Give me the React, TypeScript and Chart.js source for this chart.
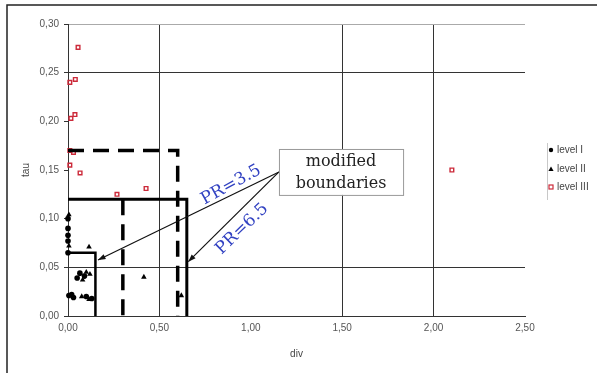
import React, { useEffect, useRef } from 'react';
import { Chart, registerables } from 'chart.js';

Chart.register(...registerables);

// ---- axes ----
const xMin = 0;
const xMax = 2.5;
const xStep = 0.5;
const yMin = 0;
const yMax = 0.3;
const yStep = 0.05;
const visibleGridX = [0.5, 1.5, 2.0];
const visibleGridY = [0.05, 0.25];
const topGridY = [0.3];

// ---- series (div, tau) ----
const levelI_div = [0.0, 0.0, 0.0, 0.0, 0.0, 0.005, 0.02, 0.03, 0.05, 0.065, 0.09, 0.1, 0.13];
const levelI_tau = [0.1, 0.09, 0.083, 0.077, 0.065, 0.021, 0.022, 0.019, 0.039, 0.044, 0.041, 0.02, 0.018];

const levelII_div = [0.005, 0.005, 0.115, 0.08, 0.1, 0.12, 0.075, 0.115, 0.415, 0.62];
const levelII_tau = [0.104, 0.072, 0.071, 0.037, 0.045, 0.043, 0.02, 0.017, 0.04, 0.021];

const levelIII_div = [0.055, 0.01, 0.04, 0.016, 0.038, 0.01, 0.03, 0.01, 0.066, 0.268, 0.427, 2.1];
const levelIII_tau = [0.276, 0.24, 0.243, 0.203, 0.207, 0.17, 0.168, 0.155, 0.147, 0.125, 0.131, 0.15];

// ---- boundary lines ----
const outerSolid_div = [0, 0.65, 0.65];
const outerSolid_tau = [0.12, 0.12, 0];
const innerSolid_div = [0, 0.15, 0.15];
const innerSolid_tau = [0.065, 0.065, 0];
const outerDashed_div = [0, 0.6, 0.6];
const outerDashed_tau = [0.17, 0.17, 0];
const midDashed_div = [0.3, 0.3];
const midDashed_tau = [0.12, 0];

// ---- annotation (data units) ----
const noteBox = { div1: 1.154, tau1: 0.1716, div2: 1.833, tau2: 0.1244 };
const noteLines = ['modified', 'boundaries'];
const arrowFrom = { div: 1.154, tau: 0.148 };
const arrowTips_div = [0.164, 0.658];
const arrowTips_tau = [0.0576, 0.0558];
const prLabels = ['PR=3.5', 'PR=6.5'];
const prLabel_div = [0.892, 0.952];
const prLabel_tau = [0.1346, 0.0894];
const prLabel_angle = [-29, -44];

const legendNames = ['level I', 'level II', 'level III'];

const zip = (xs: number[], ys: number[]) => xs.map((x, i) => ({ x, y: ys[i] }));
const near = (v: number, list: number[]) => list.some((g) => Math.abs(g - v) < 1e-6);
const fmt = (v: number) => Number(v).toFixed(2).replace('.', ',');

const RED = '#cc2a3a';
const BLUE = '#3242c2';

const decorPlugin = {
  id: 'decor',
  beforeDraw(chart: any) {
    const ctx = chart.ctx;
    ctx.save();
    ctx.fillStyle = '#ffffff';
    ctx.fillRect(0, 0, chart.width, chart.height);
    ctx.strokeStyle = '#222';
    ctx.lineWidth = 1.5;
    ctx.beginPath();
    ctx.moveTo(7, chart.height + 5);
    ctx.lineTo(7, 5);
    ctx.lineTo(chart.width + 5, 5);
    ctx.stroke();
    ctx.restore();
  },
  afterDatasetsDraw(chart: any) {
    const ctx = chart.ctx;
    const xs = chart.scales.x;
    const ys = chart.scales.y;
    const px = (v: number) => xs.getPixelForValue(v);
    const py = (v: number) => ys.getPixelForValue(v);
    ctx.save();

    // arrows
    const sx = px(arrowFrom.div);
    const sy = py(arrowFrom.tau);
    ctx.strokeStyle = '#111';
    ctx.fillStyle = '#111';
    ctx.lineWidth = 1.2;
    arrowTips_div.forEach((d, i) => {
      const tx = px(d);
      const ty = py(arrowTips_tau[i]);
      ctx.beginPath();
      ctx.moveTo(sx, sy);
      ctx.lineTo(tx, ty);
      ctx.stroke();
      const a = Math.atan2(ty - sy, tx - sx);
      const L = 8;
      ctx.beginPath();
      ctx.moveTo(tx, ty);
      ctx.lineTo(tx - L * Math.cos(a - 0.35), ty - L * Math.sin(a - 0.35));
      ctx.lineTo(tx - L * Math.cos(a + 0.35), ty - L * Math.sin(a + 0.35));
      ctx.closePath();
      ctx.fill();
    });

    // box
    const bx1 = px(noteBox.div1);
    const by1 = py(noteBox.tau1);
    const bx2 = px(noteBox.div2);
    const by2 = py(noteBox.tau2);
    ctx.fillStyle = '#fff';
    ctx.fillRect(bx1, by1, bx2 - bx1, by2 - by1);
    ctx.strokeStyle = '#999';
    ctx.lineWidth = 1;
    ctx.strokeRect(bx1 + 0.5, by1 + 0.5, bx2 - bx1, by2 - by1);
    ctx.fillStyle = '#222';
    ctx.font = '16px "DejaVu Serif"';
    ctx.textAlign = 'center';
    ctx.textBaseline = 'middle';
    const cx = (bx1 + bx2) / 2;
    const h = by2 - by1;
    noteLines.forEach((t, i) => {
      ctx.fillText(t, cx, by1 + h * (0.27 + i * 0.48));
    });

    // PR labels
    ctx.fillStyle = BLUE;
    ctx.font = '17px "DejaVu Serif"';
    prLabels.forEach((t, i) => {
      ctx.save();
      ctx.translate(px(prLabel_div[i]), py(prLabel_tau[i]));
      ctx.rotate((prLabel_angle[i] * Math.PI) / 180);
      ctx.fillText(t, 0, 0);
      ctx.restore();
    });

    // legend
    const lx = chart.chartArea.right + 22;
    const rows = [150, 169, 187];
    ctx.strokeStyle = '#c8c8c8';
    ctx.lineWidth = 1;
    ctx.beginPath();
    ctx.moveTo(lx + 0.5, 143);
    ctx.lineTo(lx + 0.5, 200);
    ctx.stroke();
    ctx.font = '10px "Liberation Sans"';
    ctx.textAlign = 'left';
    ctx.textBaseline = 'middle';
    legendNames.forEach((name, i) => {
      const y = rows[i];
      const mx = lx + 4;
      if (i === 0) {
        ctx.fillStyle = '#000';
        ctx.beginPath();
        ctx.arc(mx, y, 2.2, 0, Math.PI * 2);
        ctx.fill();
      } else if (i === 1) {
        ctx.fillStyle = '#000';
        ctx.beginPath();
        ctx.moveTo(mx, y - 2.5);
        ctx.lineTo(mx + 2.6, y + 2);
        ctx.lineTo(mx - 2.6, y + 2);
        ctx.closePath();
        ctx.fill();
      } else {
        ctx.strokeStyle = RED;
        ctx.lineWidth = 1.2;
        ctx.strokeRect(mx - 2, y - 2, 4, 4);
      }
      ctx.fillStyle = '#444';
      ctx.fillText(name, lx + 10, y);
    });
    ctx.restore();
  },
};

export default function App() {
  const ref = useRef<HTMLCanvasElement | null>(null);
  useEffect(() => {
    if (!ref.current) return;
    const lineDs = (label: string, xs: number[], ys: number[], width: number, dash: number[]) => ({
      type: 'line' as const,
      label,
      data: zip(xs, ys),
      showLine: true,
      borderColor: '#000',
      borderWidth: width,
      borderDash: dash,
      pointRadius: 0,
      fill: false,
      tension: 0,
      clip: false,
      borderCapStyle: 'butt',
      borderJoinStyle: 'miter',
    });
    const chart = new Chart(ref.current, {
      type: 'scatter',
      data: {
        datasets: [
          lineDs('outer solid', outerSolid_div, outerSolid_tau, 3, []),
          lineDs('inner solid', innerSolid_div, innerSolid_tau, 2.5, []),
          lineDs('outer dashed', outerDashed_div, outerDashed_tau, 3.5, [16, 9]),
          lineDs('mid dashed', midDashed_div, midDashed_tau, 3.5, [16, 9]),
          {
            label: legendNames[0],
            data: zip(levelI_div, levelI_tau),
            pointStyle: 'circle',
            pointRadius: 2.8,
            backgroundColor: '#000',
            borderColor: '#000',
            borderWidth: 0,
            clip: false,
          },
          {
            label: legendNames[1],
            data: zip(levelII_div, levelII_tau),
            pointStyle: 'triangle',
            pointRadius: 3.2,
            backgroundColor: '#000',
            borderColor: '#000',
            borderWidth: 0,
            clip: false,
          },
          {
            label: legendNames[2],
            data: zip(levelIII_div, levelIII_tau),
            pointStyle: 'rect',
            pointRadius: 2.6,
            backgroundColor: 'rgba(0,0,0,0)',
            borderColor: RED,
            borderWidth: 1.4,
            clip: false,
          },
        ] as any,
      },
      options: {
        animation: false,
        responsive: true,
        maintainAspectRatio: false,
        events: [],
        layout: { padding: { left: 18, right: 72, top: 24, bottom: 11 } },
        plugins: {
          legend: { display: false },
          tooltip: { enabled: false },
        },
        scales: {
          x: {
            type: 'linear',
            min: xMin,
            max: xMax,
            ticks: {
              stepSize: xStep,
              callback: (v: any) => fmt(v),
              color: '#555',
              font: { family: '"Liberation Sans"', size: 10 },
              padding: 6,
              maxRotation: 0,
            },
            grid: {
              drawTicks: false,
              color: (c: any) => (near(c.tick.value, visibleGridX) ? '#333' : 'rgba(0,0,0,0)'),
              lineWidth: 1,
            },
            border: { display: true, color: '#333', width: 1 },
            title: {
              display: true,
              text: 'div',
              color: '#444',
              font: { family: '"Liberation Sans"', size: 10 },
              padding: { top: 4, bottom: 2 },
            },
            afterFit: (s: any) => {
              s.height = 46;
            },
          },
          y: {
            type: 'linear',
            min: yMin,
            max: yMax,
            ticks: {
              stepSize: yStep,
              callback: (v: any) => fmt(v),
              color: '#555',
              font: { family: '"Liberation Sans"', size: 10 },
              padding: 5,
            },
            grid: {
              tickLength: 4,
              tickColor: '#333',
              color: (c: any) =>
                near(c.tick.value, visibleGridY)
                  ? '#333'
                  : near(c.tick.value, topGridY)
                  ? '#aaa'
                  : 'rgba(0,0,0,0)',
              lineWidth: 1,
            },
            border: { display: true, color: '#333', width: 1 },
            title: {
              display: true,
              text: 'tau',
              color: '#444',
              font: { family: '"Liberation Sans"', size: 10 },
              padding: { top: 2, bottom: 2 },
            },
            afterFit: (s: any) => {
              s.width = 50;
            },
          },
        },
      } as any,
      plugins: [decorPlugin],
    });
    return () => chart.destroy();
  }, []);
  return (
    <div style={{ position: 'fixed', left: 0, top: 0, width: 597, height: 373, background: '#fff' }}>
      <canvas ref={ref} />
    </div>
  );
}
